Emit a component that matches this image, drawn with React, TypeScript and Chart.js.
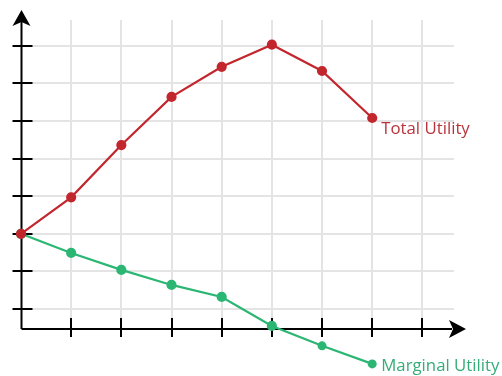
import React, { useEffect, useRef } from "react";
import { Chart, registerables } from "chart.js";

Chart.register(...registerables);

const quantities = [0, 1, 2, 3, 4, 5, 6, 7];
const totalUtility = [3, 3.97, 5.36, 6.64, 7.44, 8.03, 7.33, 6.08];
const marginalUtility = [3, 2.49, 2.04, 1.64, 1.32, 0.55, 0.02, -0.46];
const gridTicks = [1, 2, 3, 4, 5, 6, 7, 8];
const seriesLabels = ["Total Utility", "Marginal Utility"];

const RED = "#c1272d";
const GREEN = "#2bb673";

const axesPlugin = {
  id: "arrowAxes",
  beforeDatasetsDraw(chart: any) {
    const ctx = chart.ctx;
    const xs = chart.scales.x;
    const ys = chart.scales.y;
    const x0 = xs.getPixelForValue(0) + 0.5;
    const y0 = chart.chartArea.bottom;
    ctx.save();
    ctx.strokeStyle = "#000";
    ctx.fillStyle = "#000";
    ctx.lineWidth = 2;
    ctx.beginPath();
    ctx.moveTo(x0, y0);
    ctx.lineTo(x0, 22);
    ctx.stroke();
    ctx.beginPath();
    ctx.moveTo(x0, y0);
    ctx.lineTo(452, y0);
    ctx.stroke();
    ctx.beginPath();
    ctx.moveTo(x0, 10);
    ctx.lineTo(x0 + 9, 26);
    ctx.lineTo(x0, 22);
    ctx.lineTo(x0 - 9, 26);
    ctx.closePath();
    ctx.fill();
    ctx.beginPath();
    ctx.moveTo(466, y0);
    ctx.lineTo(449, y0 - 9);
    ctx.lineTo(453, y0);
    ctx.lineTo(449, y0 + 9);
    ctx.closePath();
    ctx.fill();
    gridTicks.forEach((v) => {
      const py = Math.round(ys.getPixelForValue(v));
      ctx.beginPath();
      ctx.moveTo(x0 - 9, py);
      ctx.lineTo(x0 + 11, py);
      ctx.stroke();
      const px = Math.round(xs.getPixelForValue(v));
      ctx.beginPath();
      ctx.moveTo(px, y0 - 11);
      ctx.lineTo(px, y0 + 8);
      ctx.stroke();
    });
    ctx.restore();
  },
  afterDatasetsDraw(chart: any) {
    const ctx = chart.ctx;
    const area = chart.chartArea;
    ctx.save();
    // points that fall outside the chart area are skipped by Chart.js; draw them here
    chart.data.datasets.forEach((ds: any, di: number) => {
      chart.getDatasetMeta(di).data.forEach((pt: any) => {
        if (pt.y > area.bottom + 2 || pt.y < area.top - 2) {
          ctx.beginPath();
          ctx.fillStyle = ds.backgroundColor;
          ctx.arc(pt.x, pt.y, ds.pointRadius + 0.5, 0, Math.PI * 2);
          ctx.fill();
        }
      });
    });
    const m0 = chart.getDatasetMeta(0).data;
    const m1 = chart.getDatasetMeta(1).data;
    const p0 = m0[m0.length - 1];
    const p1 = m1[m1.length - 1];
    ctx.font = "16.8px 'Open Sans'";
    ctx.textAlign = "left";
    ctx.textBaseline = "alphabetic";
    ctx.fillStyle = "#b8343b";
    ctx.fillText(seriesLabels[0], p0.x + 9, p0.y + 16);
    ctx.fillStyle = "#35ad78";
    ctx.textBaseline = "middle";
    ctx.fillText(seriesLabels[1], p1.x + 9, p1.y + 2);
    ctx.restore();
  },
};

export default function App() {
  const ref = useRef<HTMLCanvasElement>(null);
  useEffect(() => {
    if (!ref.current) return;
    const chart = new Chart(ref.current, {
      type: "line",
      data: {
        datasets: [
          {
            label: seriesLabels[0],
            data: quantities.map((q, i) => ({ x: q, y: totalUtility[i] })),
            borderColor: RED,
            backgroundColor: RED,
            borderWidth: 2.2,
            pointRadius: 4,
            pointHoverRadius: 4,
            clip: false as any,
            tension: 0,
          },
          {
            label: seriesLabels[1],
            data: quantities.map((q, i) => ({ x: q, y: marginalUtility[i] })),
            borderColor: GREEN,
            backgroundColor: GREEN,
            borderWidth: 2.2,
            pointRadius: 4,
            pointHoverRadius: 4,
            clip: false as any,
            tension: 0,
          },
        ],
      },
      plugins: [axesPlugin],
      options: {
        animation: false,
        responsive: true,
        maintainAspectRatio: false,
        events: [],
        layout: { padding: { left: 21, right: 48, top: 20, bottom: 47 } },
        plugins: { legend: { display: false }, tooltip: { enabled: false } },
        scales: {
          x: {
            type: "linear",
            min: 0,
            max: 8.63,
            afterBuildTicks: (s: any) => {
              s.ticks = gridTicks.map((v) => ({ value: v }));
            },
            ticks: { display: false },
            border: { display: false },
            grid: { color: "#e4e4e4", lineWidth: 2, drawTicks: false },
          },
          y: {
            type: "linear",
            min: 0.468,
            max: 8.686,
            afterBuildTicks: (s: any) => {
              s.ticks = gridTicks.map((v) => ({ value: v }));
            },
            ticks: { display: false },
            border: { display: false },
            grid: { color: "#e4e4e4", lineWidth: 2, drawTicks: false },
          },
        },
      },
    });
    return () => chart.destroy();
  }, []);
  return (
    <div style={{ position: "fixed", left: 0, top: 0, width: 502, height: 376, background: "#fff" }}>
      <canvas ref={ref} />
    </div>
  );
}
